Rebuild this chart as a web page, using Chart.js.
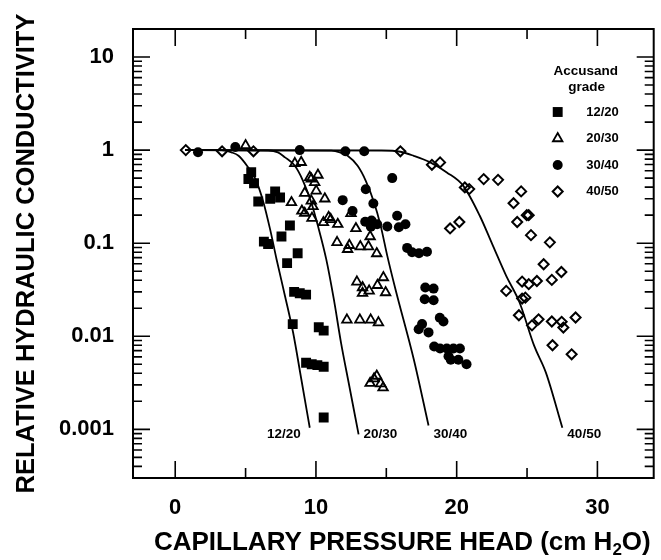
<!DOCTYPE html>
<html lang="en">
<head>
<meta charset="UTF-8">
<title>Relative hydraulic conductivity vs capillary pressure head</title>
<style>
  html, body { margin: 0; padding: 0; background: #fff; }
  #wrap { width: 661px; height: 560px; }
</style>
<script src="https://cdn.jsdelivr.net/npm/chart.js"></script>
</head>
<body>
<div id="wrap"><canvas id="chart" width="661" height="560"></canvas></div>
<script>
const grades = ['12/20', '20/30', '30/40', '40/50'];

// measured points, [head (cm H2O), relative K]
const pts1220 = [[5.4,0.58],[5.2,0.49],[5.6,0.44],[7.1,0.36],[7.45,0.31],[6.75,0.3],[5.9,0.28],
  [6.3,0.104],[6.6,0.098],[7.55,0.118],[8.15,0.155],[7.95,0.061],[8.7,0.078],[8.45,0.03],[8.85,0.029],
  [9.3,0.028],[8.35,0.0135],[10.2,0.0125],[10.55,0.0115],[9.3,0.0052],[9.7,0.005],[10.1,0.0049],
  [10.55,0.0047],[10.55,0.00134]];
const pts2030 = [[5.0,1.12],[8.5,0.72],[8.95,0.74],[9.56,0.51],[10.14,0.54],[9.91,0.45],[9.67,0.49],
  [9.2,0.345],[10.02,0.365],[10.63,0.3],[8.26,0.274],[9.67,0.285],[9.79,0.248],[9.0,0.222],[9.2,0.21],
  [9.72,0.186],[10.9,0.19],[11.05,0.18],[10.53,0.167],[11.55,0.16],[11.5,0.102],[12.37,0.095],
  [12.25,0.086],[13.15,0.092],[13.73,0.092],[14.32,0.0775],[12.49,0.209],[12.84,0.144],[13.85,0.118],
  [12.91,0.0384],[13.31,0.0334],[13.31,0.029],[13.78,0.0307],[14.37,0.0353],[14.79,0.0428],[14.95,0.0295],
  [12.2,0.015],[13.12,0.015],[13.89,0.015],[14.44,0.014],[14.32,0.00374],[14.13,0.0035],[13.85,0.00313],
  [14.77,0.0028],[14.6,0.0031]];
const pts3040 = [[1.62,0.95],[4.27,1.08],[8.85,1.0],[12.09,0.97],[13.43,0.97],[15.42,0.5],[13.54,0.38],
  [14.08,0.267],[11.9,0.29],[12.6,0.222],[13.5,0.17],[13.95,0.175],[14.35,0.16],[13.9,0.15],[15.07,0.151],
  [15.77,0.197],[15.89,0.148],[16.36,0.16],[16.48,0.089],[16.83,0.08],[17.32,0.078],[17.89,0.081],
  [17.77,0.0334],[18.36,0.0325],[17.73,0.025],[18.36,0.0244],[18.8,0.0158],[19.06,0.0144],[17.54,0.0135],
  [17.3,0.0119],[18.0,0.011],[18.4,0.00775],[18.82,0.0074],[19.3,0.0074],[19.77,0.0074],[20.23,0.0074],
  [19.42,0.0061],[19.58,0.0056],[20.12,0.0056],[20.7,0.005]];
const pts4050 = [[0.75,1.0],[3.33,0.97],[5.56,0.97],[16.0,0.97],[18.24,0.695],[18.82,0.738],[20.58,0.397],
  [20.89,0.381],[21.92,0.488],[22.94,0.479],[24.58,0.36],[24.04,0.269],[24.98,0.2],[25.12,0.2],[24.3,0.169],
  [25.28,0.122],[26.62,0.102],[19.53,0.144],[20.19,0.169],[26.18,0.0594],[27.44,0.049],[26.76,0.0403],
  [24.65,0.0386],[25.12,0.0363],[25.7,0.0392],[23.52,0.0307],[24.65,0.0254],[24.88,0.026],[24.42,0.0168],
  [25.35,0.0131],[25.82,0.0152],[26.76,0.0144],[27.46,0.0143],[27.58,0.0124],[28.45,0.0159],[26.81,0.008],
  [28.17,0.0064]];

// fitted curves
const fit1220 = [[0.7,1],[3.3,1],[4.0,0.945],[4.5,0.87],[5.1,0.68],[5.7,0.49],[6.27,0.274],[6.74,0.1415],
  [7.2,0.0673],[7.8,0.0271],[8.38,0.0109],[8.96,0.00345],[9.56,0.00104]];
const fit2030 = [[0.7,1],[6.6,0.99],[7.3,0.945],[7.8,0.835],[8.5,0.678],[9.08,0.468],[9.67,0.274],
  [10.14,0.1535],[10.73,0.0673],[11.27,0.025],[11.78,0.00855],[12.37,0.00292],[13.03,0.000883]];
const fit3040 = [[0.7,1],[11.1,0.985],[11.7,0.945],[12.25,0.868],[12.96,0.678],[13.54,0.468],[14.13,0.274],
  [14.6,0.1535],[15.07,0.0731],[15.65,0.032],[16.95,0.00566],[18.0,0.0011]];
const fit4050 = [[0.7,1],[14.6,0.99],[16.0,0.96],[16.95,0.868],[18.12,0.738],[19.3,0.576],[20.47,0.413],
  [21.64,0.197],[22.58,0.0935],[23.52,0.0445],[24.46,0.0232],[25.51,0.00787],[26.34,0.00407],[27.51,0.00104]];

const xTickLabels = [0, 10, 20, 30];
const yTickLabels = [0.001, 0.01, 0.1, 1, 10];

const toXY = arr => arr.map(([x, y]) => ({x, y}));
const FONT = "'Liberation Sans', Arial, Helvetica, sans-serif";
Chart.defaults.font.family = FONT;
Chart.defaults.color = '#000';

const styles = [
  {pointStyle: 'rect', radius: 7, fill: '#000', border: 0},
  {pointStyle: 'triangle', radius: 5.5, fill: 'rgba(0,0,0,0)', border: 1.8},
  {pointStyle: 'circle', radius: 5, fill: '#000', border: 0},
  {pointStyle: 'rectRot', radius: 5, fill: 'rgba(0,0,0,0)', border: 2}
];
const points = [pts1220, pts2030, pts3040, pts4050];
const fits = [fit1220, fit2030, fit3040, fit4050];

const datasets = [];
fits.forEach((f, i) => {
  datasets.push({
    label: grades[i], data: toXY(f), showLine: true,
    borderColor: '#000', borderWidth: 1.8, pointRadius: 0,
    cubicInterpolationMode: 'monotone'
  });
});
points.forEach((p, i) => {
  const s = styles[i];
  datasets.push({
    label: grades[i], data: toXY(p), showLine: false,
    pointStyle: s.pointStyle, pointRadius: s.radius,
    pointBackgroundColor: s.fill, pointBorderColor: '#000', pointBorderWidth: s.border
  });
});

function isPow10(v) {
  const l = Math.log10(v);
  return Math.abs(l - Math.round(l)) < 1e-6;
}

const framePlugin = {
  id: 'frame',
  afterDatasetsDraw(chart) {
    const {ctx, chartArea: a} = chart;
    const xs = chart.scales.x, ys = chart.scales.y;
    ctx.save();
    ctx.strokeStyle = '#000';
    ctx.lineWidth = 2;
    ctx.strokeRect(a.left, a.top, a.right - a.left, a.bottom - a.top);

    // inward ticks on all four sides
    ctx.beginPath();
    for (let v = 0; v <= 30; v += 5) {
      const len = v % 10 === 0 ? 17 : 10;
      const px = xs.getPixelForValue(v);
      ctx.moveTo(px, a.bottom); ctx.lineTo(px, a.bottom - len);
      ctx.moveTo(px, a.top); ctx.lineTo(px, a.top + len);
    }
    for (let e = -4; e <= 1; e++) {
      for (let k = 1; k <= 9; k++) {
        const v = k * Math.pow(10, e);
        if (v < ys.min || v > ys.max) continue;
        const len = k === 1 ? 17 : 9;
        const py = ys.getPixelForValue(v);
        ctx.moveTo(a.left, py); ctx.lineTo(a.left + len, py);
        ctx.moveTo(a.right, py); ctx.lineTo(a.right - len, py);
      }
    }
    ctx.lineWidth = 1.6;
    ctx.stroke();

    // labels at the foot of each fitted curve
    ctx.fillStyle = '#000';
    ctx.font = 'bold 13.5px ' + FONT;
    ctx.textBaseline = 'middle';
    const labelY = ys.getPixelForValue(0.001) + 5;
    fits.forEach((f, i) => {
      const meta = chart.getDatasetMeta(i);
      const end = meta.data[meta.data.length - 1];
      if (i === 0) {
        ctx.textAlign = 'right';
        ctx.fillText(grades[i], end.x - 9, labelY);
      } else {
        ctx.textAlign = 'left';
        ctx.fillText(grades[i], end.x + 5, labelY);
      }
    });

    // legend box in the upper right
    ctx.textAlign = 'center';
    ctx.font = 'bold 13.5px ' + FONT;
    ctx.fillText('Accusand', a.right - 68, a.top + 42);
    ctx.fillText('grade', a.right - 67, a.top + 58);
    ctx.font = 'bold 13px ' + FONT;
    grades.forEach((g, i) => {
      const yy = a.top + 83 + i * 26.5;
      const s = styles[i];
      ctx.fillStyle = s.fill;
      ctx.strokeStyle = '#000';
      ctx.lineWidth = s.border;
      Chart.helpers.drawPoint(ctx, {pointStyle: s.pointStyle, radius: s.radius, rotation: 0, borderWidth: s.border},
        a.right - 96, yy);
      ctx.fillStyle = '#000';
      ctx.textAlign = 'right';
      ctx.fillText(g, a.right - 35, yy);
    });

    // x axis title with a real subscript
    const main = 'CAPILLARY PRESSURE HEAD (cm H', tail = 'O)';
    const big = 'bold 26px ' + FONT, small = 'bold 17px ' + FONT;
    ctx.font = big;
    const w1 = ctx.measureText(main).width, w3 = ctx.measureText(tail).width;
    ctx.font = small;
    const w2 = ctx.measureText('2').width;
    let tx = (a.left + a.right) / 2 + 9 - (w1 + w2 + w3) / 2;
    const ty = 550;
    ctx.textAlign = 'left';
    ctx.textBaseline = 'alphabetic';
    ctx.font = big;
    ctx.fillText(main, tx, ty);
    ctx.font = small;
    ctx.fillText('2', tx + w1, ty + 5);
    ctx.font = big;
    ctx.fillText(tail, tx + w1 + w2, ty);
    ctx.restore();
  }
};

new Chart(document.getElementById('chart'), {
  type: 'scatter',
  data: {datasets},
  options: {
    responsive: false,
    animation: false,
    events: [],
    devicePixelRatio: 1,
    layout: {padding: {left: 0, right: 3, top: 29, bottom: 0}},
    plugins: {legend: {display: false}, tooltip: {enabled: false}},
    scales: {
      x: {
        type: 'linear', min: -3, max: 34,
        grid: {display: false}, border: {display: false},
        ticks: {
          stepSize: 10, includeBounds: false, autoSkip: false, maxRotation: 0,
          padding: 9, color: '#000', font: {size: 22, weight: 'bold'},
          callback: v => xTickLabels.includes(v) ? String(v) : null
        },
        title: {display: false},
        afterFit: s => { s.height = 82; }
      },
      y: {
        type: 'logarithmic', min: 0.0003, max: 20,
        grid: {display: false}, border: {display: false},
        ticks: {
          autoSkip: false, padding: 11, color: '#000', font: {size: 22, weight: 'bold'},
          callback: v => (isPow10(v) && yTickLabels.some(t => Math.abs(t - v) < t * 1e-6)) ? String(v) : null
        },
        title: {display: true, text: 'RELATIVE HYDRAULIC CONDUCTIVITY', color: '#000',
          font: {size: 25.5, weight: 'bold'}, padding: 12},
        afterFit: s => { s.width = 133; }
      }
    }
  },
  plugins: [framePlugin]
});
</script>
</body>
</html>
